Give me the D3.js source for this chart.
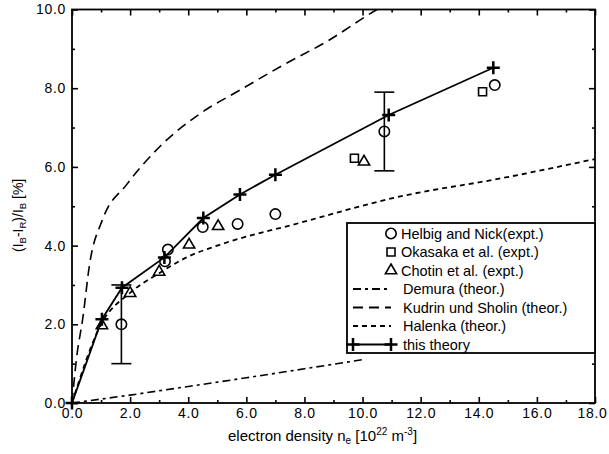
<!DOCTYPE html>
<html>
<head>
<meta charset="utf-8">
<title>Line ratio vs electron density</title>
<script src="https://cdn.jsdelivr.net/npm/d3@7"></script>
<style>
  body { margin: 0; background: #fff; }
  svg text { font-family: "Liberation Sans", Arial, Helvetica, sans-serif; fill: #000; }
</style>
</head>
<body>
<script>
// data (x: n_e in 1e22 m^-3, y: percent)
var helbig = [[1.7, 2.0], [3.2, 3.6], [3.3, 3.9], [4.5, 4.47], [5.7, 4.55], [7.0, 4.8], [10.75, 6.9], [14.55, 8.08]];
var helbigErr = [[1.7, 1.0, 3.0], [10.75, 5.9, 7.9]];
var okasaka = [[9.72, 6.22], [14.13, 7.91]];
var chotin = [[1.03, 1.97], [2.0, 2.79], [3.0, 3.33], [4.03, 4.02], [5.03, 4.49], [10.05, 6.13]];
var demura = [[0, 0], [2, 0.2], [4, 0.42], [6, 0.64], [8, 0.87], [10, 1.1]];
var kudrin = [[0, 0], [0.15, 1.1], [0.38, 2.2], [0.6, 3.5], [1.05, 4.66], [1.88, 5.55], [3.0, 6.5], [4.4, 7.35], [5.8, 7.96], [7.2, 8.56], [8.8, 9.2], [10.5, 10.0], [11, 10.2]];
var halenka = [[0, 0], [1.0, 2.0], [2.0, 2.8], [3.0, 3.3], [4.0, 3.72], [5.0, 4.0], [7.8, 4.57], [11.3, 5.25], [14.7, 5.7], [18, 6.2]];
var thisTheory = [[0, 0], [1.03, 2.13], [1.72, 2.93], [3.18, 3.7], [4.52, 4.7], [5.78, 5.3], [7.0, 5.8], [10.9, 7.32], [14.5, 8.52]];
var xMajor = [0, 2, 4, 6, 8, 10, 12, 14, 16, 18];
var xMinor = [1, 3, 5, 7, 9, 11, 13, 15, 17];
var yMajor = [0, 2, 4, 6, 8, 10];
var yMinor = [1, 3, 5, 7, 9];

var W = 609, H = 454;
var svg = d3.select("body").append("svg").attr("width", W).attr("height", H);

var x = d3.scaleLinear().domain([0, 18]).range([72, 595]);
var y = d3.scaleLinear().domain([0, 10]).range([403, 9.5]);

svg.append("clipPath").attr("id", "plot")
  .append("rect").attr("x", 72).attr("y", 9.5).attr("width", 523).attr("height", 393.5);

// axes, ticks inward
var fmt = d3.format(".1f");
function styleAxis(g, noLabels) {
  g.select(".domain").remove();
  g.selectAll(".tick line").attr("stroke", "#000").attr("stroke-width", 1.6);
  g.selectAll(".tick text").attr("font-size", 14).attr("letter-spacing", 0.7);
  if (noLabels) g.selectAll(".tick text").remove();
}
svg.append("g").attr("transform", "translate(0,403)")
  .call(d3.axisBottom(x).tickValues(xMajor).tickFormat(fmt).tickSize(-6).tickPadding(5))
  .call(styleAxis)
  .selectAll(".tick text").attr("dx", function(d) { return d === 18 ? -3 : 0; });
svg.append("g").attr("transform", "translate(0,403)")
  .call(d3.axisBottom(x).tickValues(xMinor).tickSize(-3)).call(styleAxis, true);
svg.append("g").attr("transform", "translate(0,9.5)")
  .call(d3.axisTop(x).tickValues(xMajor).tickSize(-6)).call(styleAxis, true);
svg.append("g").attr("transform", "translate(0,9.5)")
  .call(d3.axisTop(x).tickValues(xMinor).tickSize(-3)).call(styleAxis, true);
svg.append("g").attr("transform", "translate(72,0)")
  .call(d3.axisLeft(y).tickValues(yMajor).tickFormat(fmt).tickSize(-6).tickPadding(6))
  .call(styleAxis);
svg.append("g").attr("transform", "translate(72,0)")
  .call(d3.axisLeft(y).tickValues(yMinor).tickSize(-3)).call(styleAxis, true);
svg.append("g").attr("transform", "translate(595,0)")
  .call(d3.axisRight(y).tickValues(yMajor).tickSize(-6)).call(styleAxis, true);
svg.append("g").attr("transform", "translate(595,0)")
  .call(d3.axisRight(y).tickValues(yMinor).tickSize(-3)).call(styleAxis, true);

svg.append("rect").attr("x", 72).attr("y", 9.5).attr("width", 523).attr("height", 393.5)
  .attr("fill", "none").attr("stroke", "#000").attr("stroke-width", 1.8);

// theory curves
var line = d3.line().x(function(d) { return x(d[0]); }).y(function(d) { return y(d[1]); });
var smooth = d3.line().curve(d3.curveMonotoneX).x(function(d) { return x(d[0]); }).y(function(d) { return y(d[1]); });
var curves = svg.append("g").attr("clip-path", "url(#plot)").attr("fill", "none").attr("stroke", "#000");
curves.append("path").datum(demura).attr("d", line).attr("stroke-width", 1.6).attr("stroke-dasharray", "8,4,3,4");
curves.append("path").datum(kudrin).attr("d", smooth).attr("stroke-width", 1.6).attr("stroke-dasharray", "10,6");
curves.append("path").datum(halenka).attr("d", smooth).attr("stroke-width", 1.8).attr("stroke-dasharray", "5,4");
curves.append("path").datum(thisTheory).attr("d", line).attr("stroke-width", 1.8);

// error bars
var eb = svg.append("g").attr("stroke", "#000").attr("stroke-width", 1.6);
helbigErr.forEach(function(d) {
  eb.append("line").attr("x1", x(d[0])).attr("x2", x(d[0])).attr("y1", y(d[1])).attr("y2", y(d[2]));
  [d[1], d[2]].forEach(function(v) {
    eb.append("line").attr("x1", x(d[0]) - 10).attr("x2", x(d[0]) + 10).attr("y1", y(v)).attr("y2", y(v));
  });
});

// markers
var circle = d3.symbol().type(d3.symbolCircle).size(85);
var square = d3.symbol().type(d3.symbolSquare).size(64);
var triangle = d3.symbol().type(d3.symbolTriangle).size(55);
function plus(s) { return "M" + (-s) + ",0H" + s + "M0," + (-s) + "V" + s; }

function markers(data, path, fill) {
  svg.append("g").selectAll("path").data(data).enter().append("path")
    .attr("transform", function(d) { return "translate(" + x(d[0]) + "," + y(d[1]) + ")"; })
    .attr("d", path).attr("fill", fill).attr("stroke", "#000").attr("stroke-width", 1.6);
}
markers(chotin, triangle, "none");
markers(okasaka, square, "none");
markers(helbig, circle, "none");
svg.append("g").selectAll("path").data(thisTheory).enter().append("path")
  .attr("transform", function(d) { return "translate(" + x(d[0]) + "," + y(d[1]) + ")"; })
  .attr("d", plus(6.5)).attr("stroke", "#000").attr("stroke-width", 2.5);

// legend
var lg = svg.append("g");
lg.append("rect").attr("x", 347).attr("y", 223).attr("width", 248).attr("height", 130)
  .attr("fill", "#fff").attr("stroke", "#000").attr("stroke-width", 1.8);
var rows = ["Helbig and Nick(expt.)", "Okasaka et al. (expt.)", "Chotin et al. (expt.)",
  "Demura (theor.)", "Kudrin und Sholin (theor.)", "Halenka (theor.)", "this theory"];
var dashes = [null, null, null, "8,4,3,4", "10,6", "5,4", null];
rows.forEach(function(t, i) {
  var yy = 233.5 + i * 18.5;
  var tx = i < 3 ? 401 : 403;
  lg.append("text").attr("x", tx).attr("y", yy + 5).attr("font-size", 14.5).text(t);
  var g = lg.append("g").attr("transform", "translate(391," + yy + ")")
    .attr("fill", "none").attr("stroke", "#000").attr("stroke-width", 1.6);
  if (i === 0) g.append("path").attr("d", circle);
  if (i === 1) g.append("path").attr("d", square);
  if (i === 2) g.append("path").attr("d", triangle);
  if (i >= 3) {
    g.append("line").attr("x1", -38).attr("x2", 0).attr("y1", 0).attr("y2", 0)
      .attr("stroke-dasharray", dashes[i]).attr("stroke-width", 1.8);
  }
  if (i === 6) {
    g.append("path").attr("transform", "translate(-38,0)").attr("d", plus(6.5)).attr("stroke-width", 2.5);
    g.append("path").attr("d", plus(6.5)).attr("stroke-width", 2.5);
  }
});

// axis titles
var xt = svg.append("text").attr("x", 228).attr("y", 441).attr("font-size", 15);
xt.append("tspan").text("electron density n");
xt.append("tspan").attr("font-size", 10).attr("dy", 3).text("e");
xt.append("tspan").attr("dy", -3).text(" [10");
xt.append("tspan").attr("font-size", 10).attr("dy", -6).text("22");
xt.append("tspan").attr("dy", 6).text(" m");
xt.append("tspan").attr("font-size", 10).attr("dy", -6).text("-3");
xt.append("tspan").attr("dy", 6).text("]");

var yt = svg.append("text").attr("transform", "translate(23,252) rotate(-90)").attr("font-size", 14);
yt.append("tspan").text("(I");
yt.append("tspan").attr("font-size", 9.5).attr("dy", 3).text("B");
yt.append("tspan").attr("dy", -3).text("-I");
yt.append("tspan").attr("font-size", 9.5).attr("dy", 3).text("R");
yt.append("tspan").attr("dy", -3).text(")/I");
yt.append("tspan").attr("font-size", 9.5).attr("dy", 3).text("B");
yt.append("tspan").attr("dy", -3).text("  [%]");
</script>
</body>
</html>
